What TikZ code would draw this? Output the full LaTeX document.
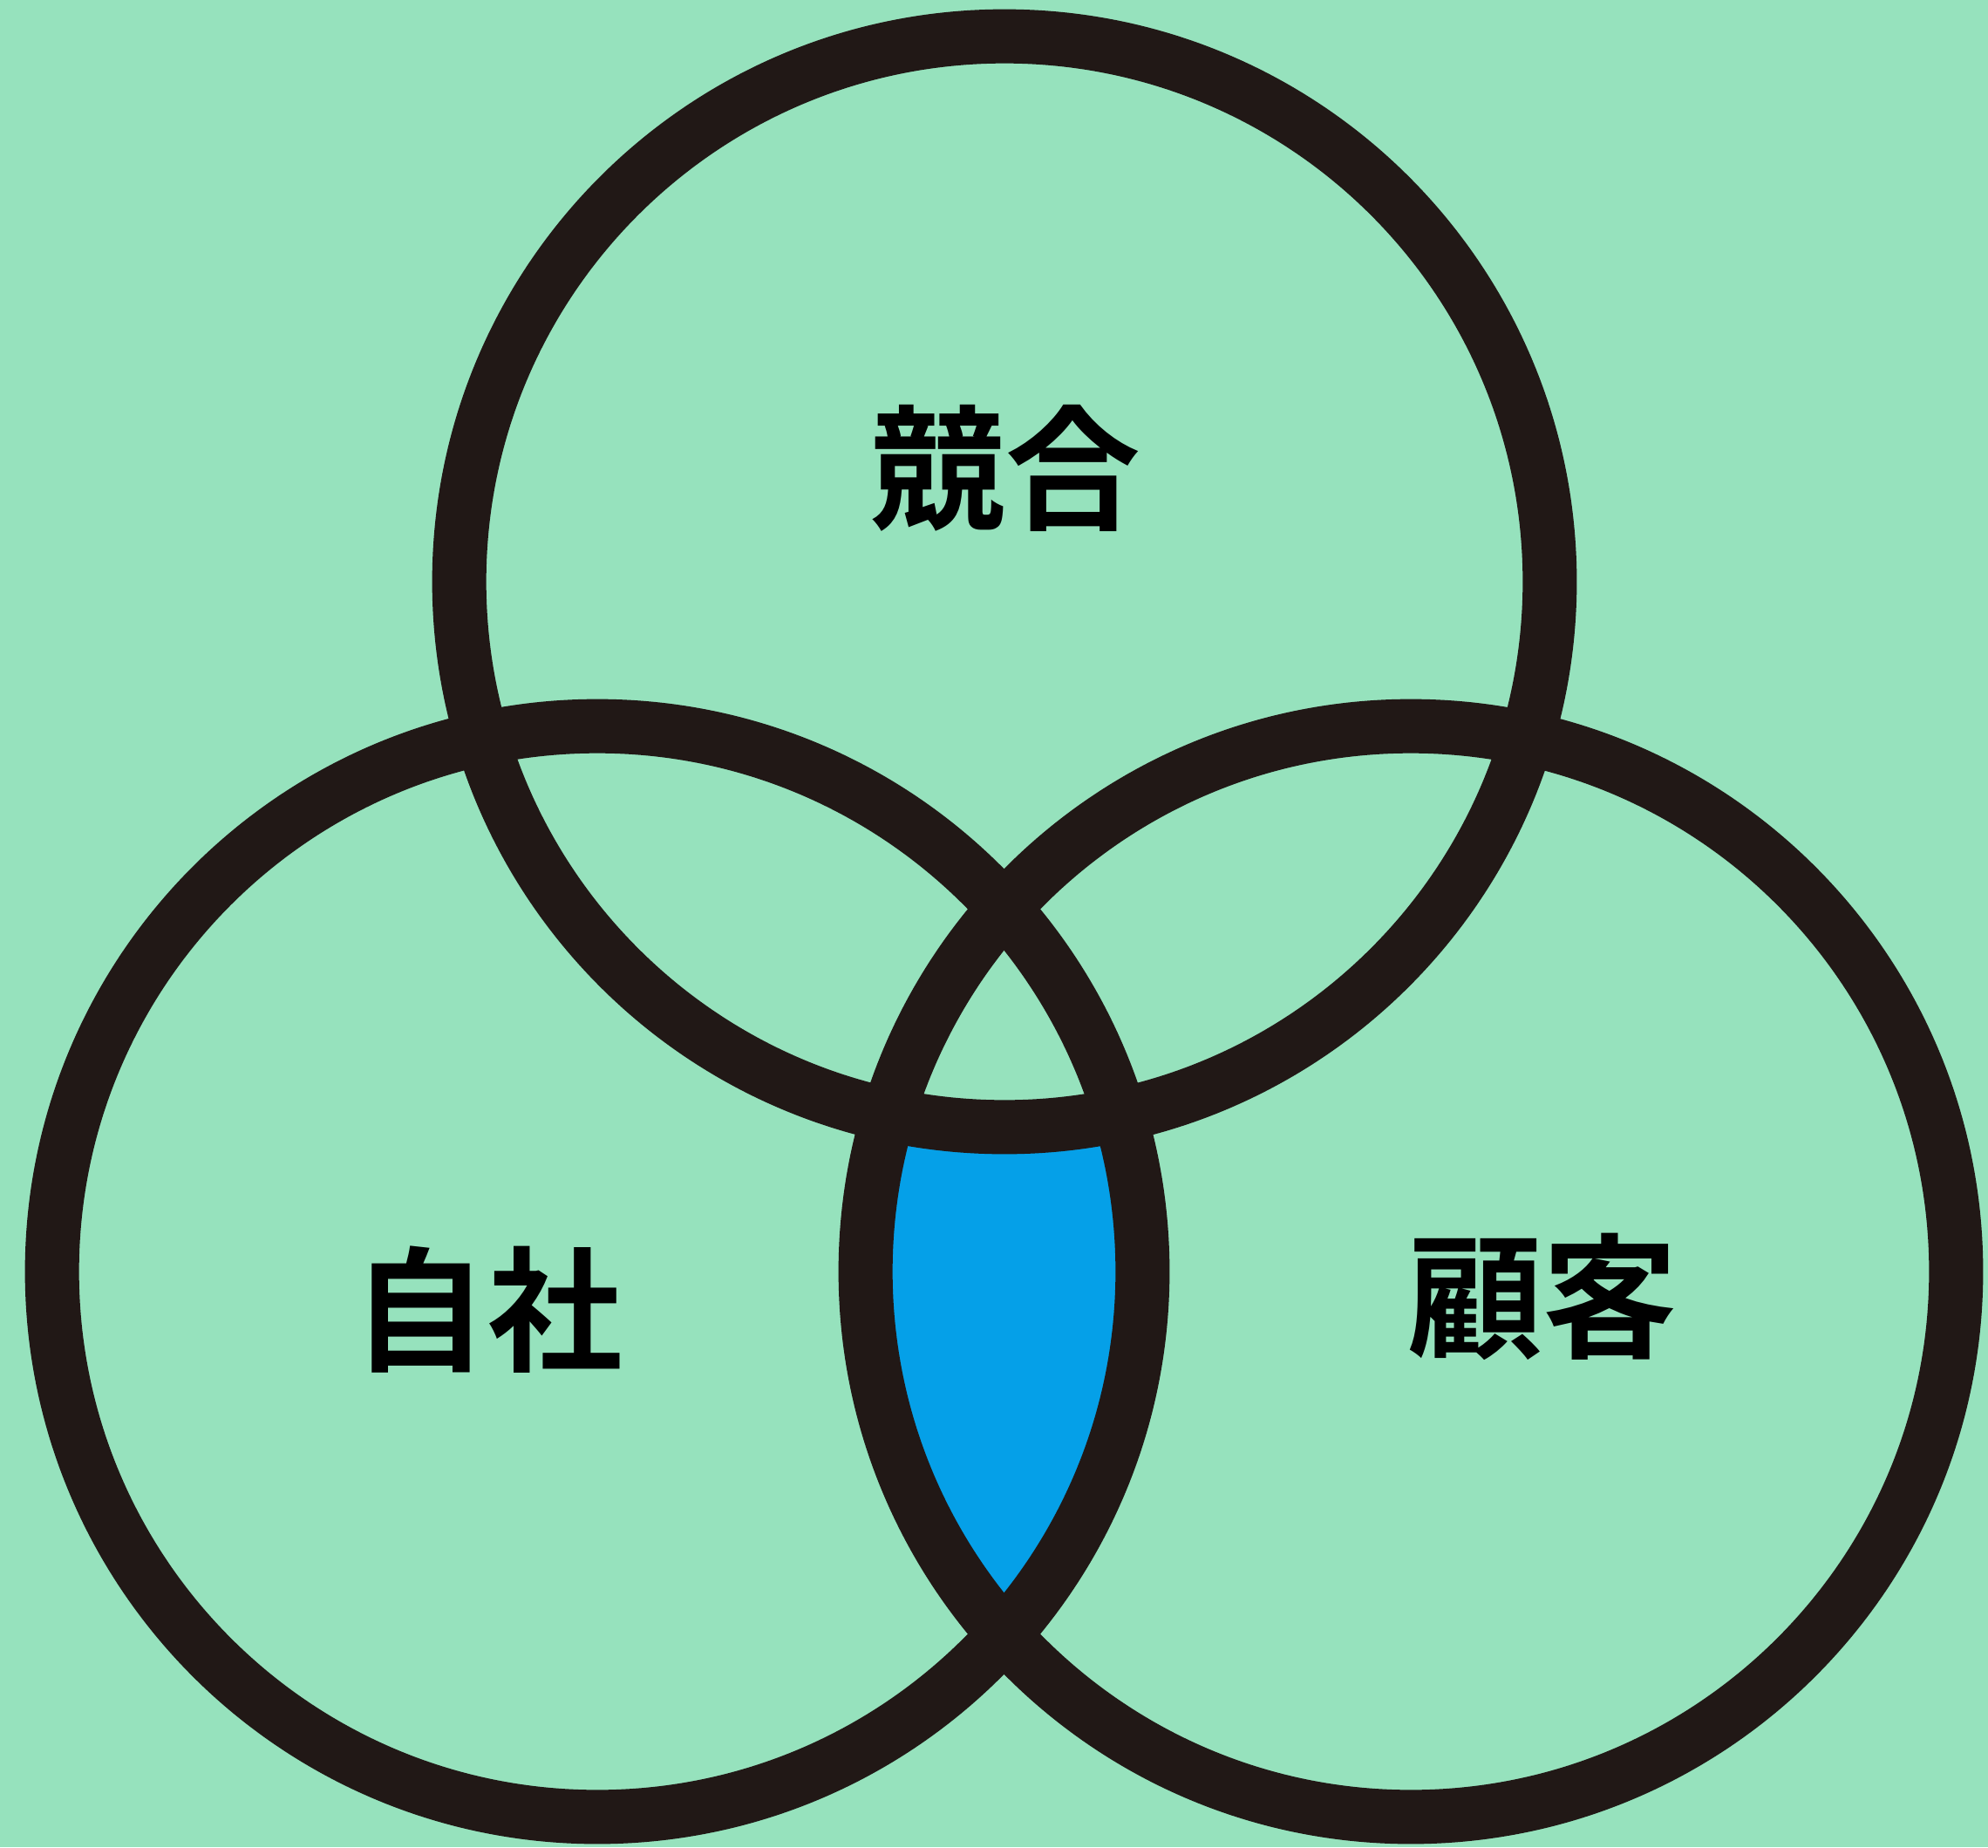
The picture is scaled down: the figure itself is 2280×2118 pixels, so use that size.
\documentclass[tikz,border=0pt]{standalone}
\usepackage{fontspec}
\newfontfamily\cjk{Noto Sans CJK JP Bold}
\definecolor{bg}{HTML}{96E2BD}
\definecolor{ring}{HTML}{211816}
\definecolor{core}{HTML}{05A0E8}
\tikzset{
  ringline/.style={draw=ring, line width=0.62cm},
  label/.style={font=\cjk\fontsize{44pt}{44pt}\selectfont, text=black, inner sep=0pt}
}
\begin{document}
\begin{tikzpicture}[x=0.01cm, y=-0.01cm]
\fill[bg] (0,0) rectangle (2280,2118);
\useasboundingbox (0,0) rectangle (2280,2118);
\coordinate (ctop) at (1152,667);
\coordinate (cleft) at (685,1458);
\coordinate (cright) at (1618,1458);
\begin{scope}
  \clip (cleft) circle (6.25cm);
  \fill[core] (cright) circle (6.25cm);
\end{scope}
\fill[bg] (ctop) circle (6.25cm);
\draw[ringline] (ctop) circle (6.25cm);
\draw[ringline] (cleft) circle (6.25cm);
\draw[ringline] (cright) circle (6.25cm);
\node[label] (kyogo) at (1153,537) {競合};
\node[label] (jisha) at (559,1502) {自社};
\node[label] (kokyaku) at (1769,1487) {顧客};
\end{tikzpicture}
\end{document}
